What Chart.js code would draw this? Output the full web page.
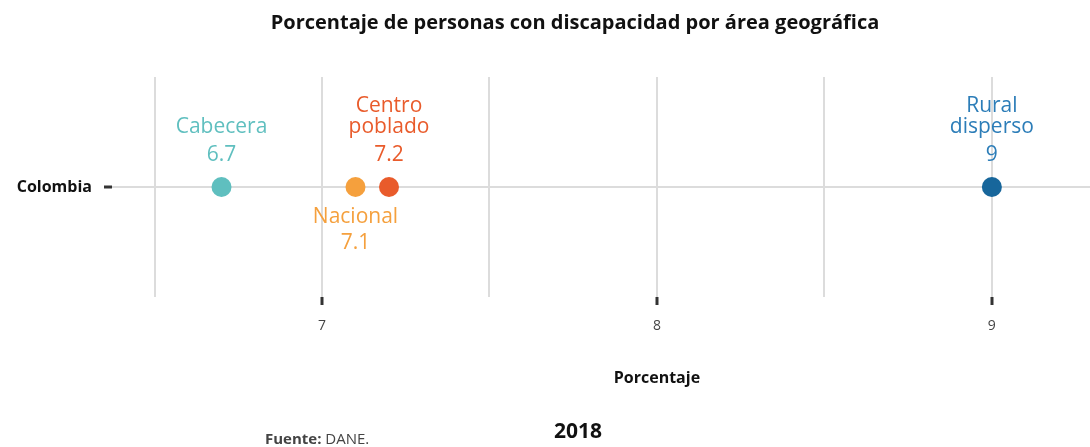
<!DOCTYPE html>
<html>
<head>
<meta charset="utf-8">
<script src="https://cdn.jsdelivr.net/npm/chart.js@4"></script>
<style>
  html, body { margin: 0; padding: 0; background: #fff; overflow: hidden; }
  canvas { display: block; }
</style>
</head>
<body>
<canvas id="myChart" width="1090" height="447" style="width:1090px;height:447px"></canvas>
<script>
const ctx = document.getElementById("myChart");

let categories = ["Colombia"];
let areas = ["Cabecera", "Nacional", "Centro poblado", "Rural disperso"];
let values = [6.7, 7.1, 7.2, 9];
let labelLines = [["Cabecera"], ["Nacional"], ["Centro", "poblado"], ["Rural", "disperso"]];
let labelBelow = [false, true, false, false];
let pointColors = ["#5fbfbf", "#f5a03d", "#e95b2b", "#17669b"];
let textColors = ["#5fbfbf", "#f5a03d", "#e95b2b", "#2c7db8"];
let xTicks = [7, 8, 9];

const FONT = "'Open Sans', Lato, sans-serif";

let datasets = areas.map((name, i) => ({
  label: name,
  data: [{ x: values[i], y: categories[0] }],
  backgroundColor: pointColors[i],
  borderColor: pointColors[i],
  pointRadius: 10,
  pointHoverRadius: 10,
  borderWidth: 0,
}));

const labelPlugin = {
  id: "labels",
  afterDatasetsDraw(chart) {
    const c = chart.ctx;
    c.save();
    c.textAlign = "center";
    c.textBaseline = "middle";
    chart.data.datasets.forEach((ds, i) => {
      const pt = chart.getDatasetMeta(i).data[0];
      const lines = labelLines[i];
      c.fillStyle = textColors[i];
      c.font = "21px " + FONT;
      if (labelBelow[i]) {
        lines.forEach((l, k) => c.fillText(l, pt.x, pt.y + 30 + k * 21));
        c.fillText(String(values[i]), pt.x, pt.y + 30 + (lines.length - 1) * 21 + 26);
      } else {
        c.fillText(String(values[i]), pt.x, pt.y - 32);
        lines.forEach((l, k) => c.fillText(l, pt.x, pt.y - 32 - 28 - (lines.length - 1 - k) * 21));
      }
    });
    c.restore();
  },
  afterDraw(chart) {
    const c = chart.ctx;
    c.save();
    c.textBaseline = "middle";
    c.textAlign = "center";
    c.fillStyle = "#111";
    c.font = "bold 20px " + FONT;
    c.fillText("Porcentaje de personas con discapacidad por área geográfica", 575, 23);
    c.font = "bold 16px " + FONT;
    c.fillText("Porcentaje", chart.scales.x.getPixelForValue(8), 378);
    c.font = "bold 21px " + FONT;
    c.fillText("2018", 578, 432);
    c.textAlign = "left";
    c.font = "bold 15px " + FONT;
    c.fillStyle = "#444";
    c.fillText("Fuente:", 265, 440);
    const w = c.measureText("Fuente: ").width;
    c.font = "15px " + FONT;
    c.fillText("DANE.", 265 + w, 440);
    c.restore();
  },
};

new Chart(ctx, {
  type: "scatter",
  data: { labels: categories, datasets: datasets },
  plugins: [labelPlugin],
  options: {
    responsive: false,
    animation: false,
    layout: { autoPadding: false, padding: { top: 77, right: 0, bottom: 90, left: 0 } },
    plugins: {
      legend: { display: false },
      tooltip: { enabled: false },
    },
    scales: {
      x: {
        type: "linear",
        min: 6.373,
        max: 9.293,
        afterBuildTicks: (scale) => {
          let t = [];
          for (let v = 6.5; v <= 9.01; v += 0.5) t.push({ value: v });
          scale.ticks = t;
        },
        afterFit: (scale) => { scale.height = 60; },
        border: { display: false },
        grid: {
          color: "#dcdcdc",
          lineWidth: 2,
          tickLength: 8,
          tickWidth: 3,
          tickColor: (c) => (xTicks.includes(c.tick.value) ? "#333" : "rgba(0,0,0,0)"),
        },
        ticks: {
          padding: 13,
          color: "#444",
          font: { family: FONT, size: 14 },
          callback: (v) => (xTicks.includes(v) ? String(v) : ""),
        },
      },
      y: {
        type: "category",
        labels: categories,
        offset: true,
        afterFit: (scale) => { scale.width = 112; },
        border: { display: false },
        grid: {
          offset: false,
          color: "#dcdcdc",
          lineWidth: 2,
          tickLength: 8,
          tickWidth: 3,
          tickColor: "#333",
        },
        ticks: {
          padding: 12,
          color: "#111",
          font: { family: FONT, size: 16, weight: "bold" },
        },
      },
    },
  },
});
</script>
</body>
</html>
